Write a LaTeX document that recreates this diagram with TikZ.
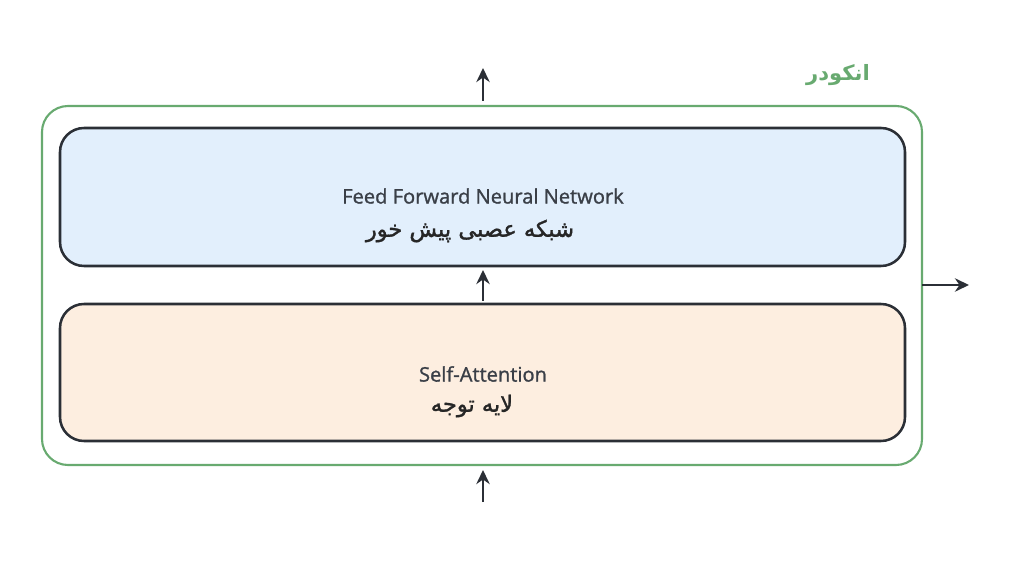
\documentclass[tikz,border=0pt]{standalone}
\usepackage{fontspec}
\setmainfont{Open Sans}[FakeBold=1.2]
\newfontfamily\arabicfont[Script=Arabic,FakeBold=1.5]{DejaVu Sans}
\newfontfamily\arabicbold[Script=Arabic]{DejaVu Sans}
\TeXXeTstate=1
\usetikzlibrary{arrows.meta}
\definecolor{encgreen}{RGB}{104,170,112}
\definecolor{boxborder}{RGB}{43,47,54}
\definecolor{bluefill}{RGB}{226,239,252}
\definecolor{peachfill}{RGB}{253,238,224}
\definecolor{txtgray}{RGB}{58,63,71}
\begin{document}
\begin{tikzpicture}[x=0.025cm,y=-0.025cm,
  layerbox/.style={draw=boxborder,line width=1.8pt,rounded corners=0.6cm},
  encbox/.style={draw=encgreen,line width=1.5pt,rounded corners=0.65cm},
  flow/.style={draw=boxborder,line width=2pt,-{Stealth[length=10pt,width=9.5pt]}},
  lbl/.style={text=txtgray,font=\fontsize{14.3}{17}\selectfont,inner sep=0pt},
  albl/.style={text=black!85,font=\arabicfont\fontsize{16}{19}\selectfont,inner sep=0pt}]
\useasboundingbox (0,0) rectangle (1024,576);
\draw[encbox] (42,106) rectangle (922,465);
\node[text=encgreen,font=\arabicbold\bfseries\fontsize{15}{18}\selectfont,inner sep=0pt] (enc) at (838,75) {\beginR انکودر\endR};
\draw[layerbox,fill=bluefill] (60,128) rectangle (905,266);
\draw[layerbox,fill=peachfill] (60,304) rectangle (905,441);
\node[lbl] (ffn) at (483,196) {Feed Forward Neural Network};
\node[albl] (ffnfa) at (470,231) {\beginR شبکه عصبی پیش خور\endR};
\node[lbl] (sa) at (483,374) {Self-Attention};
\node[albl] (safa) at (472,406) {\beginR لایه توجه\endR};
\coordinate (inS) at (483,502);
\coordinate (inE) at (483,470);
\coordinate (midS) at (483,301);
\coordinate (midE) at (483,270);
\coordinate (topS) at (483,101);
\coordinate (topE) at (483,68);
\coordinate (rS) at (922,285);
\coordinate (rE) at (969,285);
\draw[flow] (inS) -- (inE);
\draw[flow] (midS) -- (midE);
\draw[flow] (topS) -- (topE);
\draw[flow] (rS) -- (rE);
\end{tikzpicture}
\end{document}
